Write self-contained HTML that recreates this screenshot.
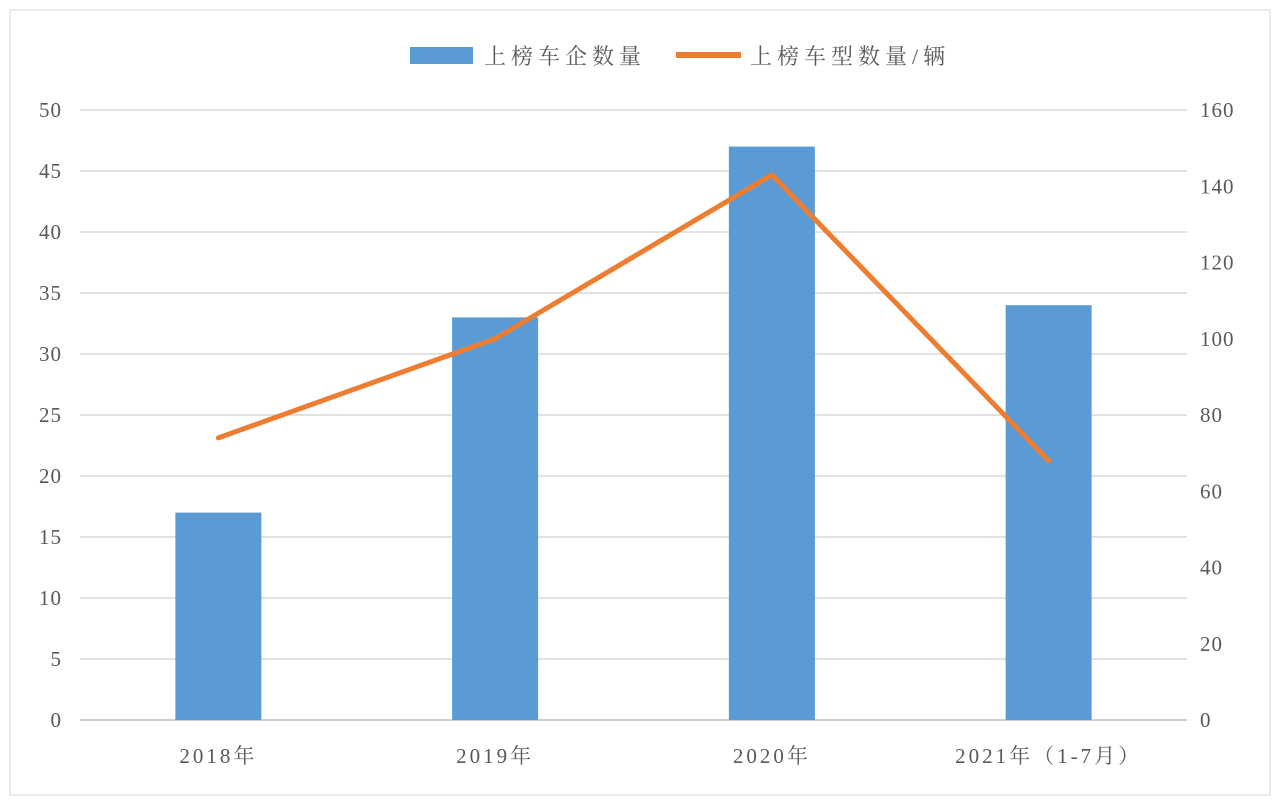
<!DOCTYPE html>
<html><head><meta charset="utf-8"><style>
body{margin:0;background:#fff;}
svg text{font-family:"Liberation Serif","Noto Serif CJK SC",serif;fill:#595959;}
</style></head><body>
<svg width="1280" height="806">
<rect x="10" y="10" width="1260" height="785" fill="#fff" stroke="#d9d9d9"/>
<g>
<rect x="410" y="47" width="63" height="17" fill="#5b9bd5"/>
<text x="484" y="64" font-size="22" letter-spacing="5">上榜车企数量</text>
<line x1="676" y1="55" x2="741" y2="55" stroke="#ed7d31" stroke-width="6"/>
<text x="750" y="64" font-size="22" letter-spacing="5">上榜车型数量/辆</text>
</g>
<g id="grid"></g><g id="bars"></g><g id="line"></g><g id="axes"></g>
</svg>
<script>
const categories=["2018年","2019年","2020年","2021年（1-7月）"];
const companies=[17,33,47,34];
const models=[74,100,143,68];
const leftTicks=[0,5,10,15,20,25,30,35,40,45,50];
const rightTicks=[0,20,40,60,80,100,120,140,160];
const NS="http://www.w3.org/2000/svg";
const L=80,R=1187,T=110,B=720;
const yL=v=>B-(v/50)*(B-T), yR=v=>B-(v/160)*(B-T);
const cw=(R-L)/categories.length, xc=i=>L+cw*(i+0.5);
function mk(t,a,p){const e=document.createElementNS(NS,t);for(const k in a)e.setAttribute(k,a[k]);document.getElementById(p).appendChild(e);return e;}
leftTicks.forEach(v=>{
 const g=mk("line",{x1:L,x2:R,y1:yL(v),y2:yL(v),stroke:v===0?"#bfbfbf":"#d9d9d9","stroke-width":1.5},"grid");
 
 
 const t=mk("text",{x:62,y:yL(v)+7,"font-size":21,"text-anchor":"end","letter-spacing":1},"axes");t.textContent=v;
 
 
});
rightTicks.forEach(v=>{
 const t=mk("text",{x:1200,y:yR(v)+7,"font-size":21,"letter-spacing":1},"axes");t.textContent=v;
 
 
});
categories.forEach((c,i)=>{
 const b=mk("rect",{x:xc(i)-43,y:yL(companies[i]),width:86,height:B-yL(companies[i]),fill:"#5b9bd5"},"bars");
 
 
 const t=mk("text",{x:xc(i),y:763,"font-size":21,"text-anchor":"middle","letter-spacing":3},"axes");t.textContent=c;
 
 
});
const pl=mk("polyline",{points:models.map((v,i)=>xc(i)+","+yR(v)).join(" "),fill:"none",stroke:"#ed7d31","stroke-width":5,"stroke-linejoin":"round","stroke-linecap":"round"},"line");


</script>
</body></html>
